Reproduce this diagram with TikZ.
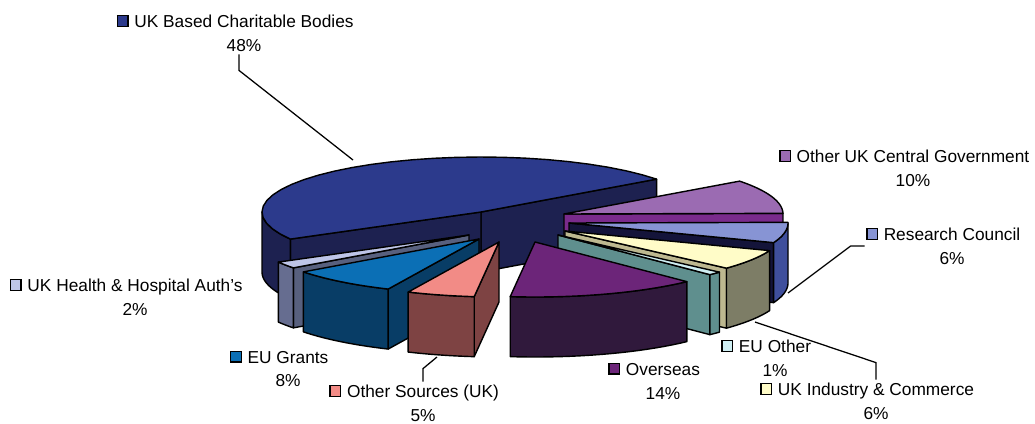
\documentclass[tikz,border=0pt]{standalone}
\usepackage{fontspec}
\setmainfont{Liberation Sans}
\usetikzlibrary{positioning}
\usepackage{xcolor}
% slice colours (top / rim / radial wall)
\definecolor{cbTop}{HTML}{2C3A8C}
\definecolor{cbSide}{HTML}{1D2150}
\definecolor{ocgTop}{HTML}{9B6BB2}
\definecolor{ocgWall}{HTML}{7A2B8C}
\definecolor{rcTop}{HTML}{8794D4}
\definecolor{rcRim}{HTML}{3F4F9C}
\definecolor{rcWall}{HTML}{14143A}
\definecolor{uicTop}{HTML}{FFFCC8}
\definecolor{uicRim}{HTML}{7D7D66}
\definecolor{uicWall}{HTML}{BDB890}
\definecolor{euoTop}{HTML}{CFEFF3}
\definecolor{euoRim}{HTML}{5F8F8E}
\definecolor{ovsTop}{HTML}{6C2579}
\definecolor{ovsRim}{HTML}{30193C}
\definecolor{osTop}{HTML}{F28B86}
\definecolor{osRim}{HTML}{7E4343}
\definecolor{eugTop}{HTML}{0B6FB5}
\definecolor{eugRim}{HTML}{083D66}
\definecolor{hhaTop}{HTML}{BEC5E8}
\definecolor{hhaRim}{HTML}{666D90}
\definecolor{hhaWall}{HTML}{58607E}
% pie: centre (481,212), radii 219/55, depth 60; #1 #2 = explode offset
\newcommand{\Top}[5]{\filldraw[face,fill=#5] ({481+(#1)},{212+(#2)})
	-- plot[domain=#3:#4,samples=30] ({481+(#1)+219*cos(\x)},{212+(#2)-55*sin(\x)}) -- cycle;}
\newcommand{\Wall}[4]{\filldraw[face,fill=#4] ({481+(#1)},{212+(#2)})
	-- ({481+(#1)+219*cos(#3)},{212+(#2)-55*sin(#3)})
	-- ({481+(#1)+219*cos(#3)},{272+(#2)-55*sin(#3)})
	-- ({481+(#1)},{272+(#2)}) -- cycle;}
\newcommand{\Rim}[5]{\filldraw[face,fill=#5]
	plot[domain=#3:#4,samples=20] ({481+(#1)+219*cos(\x)},{212+(#2)-55*sin(\x)})
	-- plot[domain=#4:#3,samples=20] ({481+(#1)+219*cos(\x)},{272+(#2)-55*sin(\x)}) -- cycle;}
\newcommand{\keybox}[1]{\llap{\raisebox{1.2pt}{\setlength{\fboxsep}{0pt}\setlength{\fboxrule}{1pt}%
	\fcolorbox{black}{#1}{\rule{0pt}{6.5pt}\rule{6.5pt}{0pt}}}\hspace{4pt}}}

\begin{document}
\begin{tikzpicture}[x=0.025cm,y=-0.025cm,
% Slice style
face/.style={draw=black,line width=1pt,line join=round},
% Label style
lbl/.style={align=center,font=\fontsize{12.3}{17}\selectfont,inner sep=2pt},
leader/.style={draw=black,line width=0.9pt},
]
\useasboundingbox (0,0) rectangle (1035,423);
%% Back slice
\Wall{0}{0}{36.7}{cbSide}
\Wall{0}{0}{209.5}{cbSide}
\Rim{0}{0}{180}{209.5}{cbSide}
\Top{0}{0}{36.7}{209.5}{cbTop}
%% Right group
\Wall{83}{2}{0.7}{ocgWall}
\Top{83}{2}{0.7}{36.7}{ocgTop}
\Wall{88}{11}{339.1}{rcWall}
\Rim{88}{11}{339.1}{360}{rcRim}
\Top{88}{11}{339.1}{360.7}{rcTop}
\Wall{84}{19}{317.5}{uicWall}
\Rim{84}{19}{317.5}{339.1}{uicRim}
\Top{84}{19}{317.5}{339.1}{uicTop}
\Wall{77}{23}{313.9}{euoRim}
\Rim{77}{23}{313.9}{317.5}{euoRim}
\Top{77}{23}{313.9}{317.5}{euoTop}
%% Left group
\Wall{-12}{23}{216.7}{hhaWall}
\Rim{-12}{23}{209.5}{216.7}{hhaRim}
\Top{-12}{23}{209.5}{216.7}{hhaTop}
\Wall{-2}{27}{245.5}{eugRim}
\Rim{-2}{27}{216.7}{245.5}{eugRim}
\Top{-2}{27}{216.7}{245.5}{eugTop}
\Wall{18}{30}{263.5}{osRim}
\Rim{18}{30}{245.5}{263.5}{osRim}
\Top{18}{30}{245.5}{263.5}{osTop}
%% Front slice
\Rim{54}{30}{263.5}{313.9}{ovsRim}
\Top{54}{30}{263.5}{313.9}{ovsTop}

%% Labels
\node[lbl] (cb)  at (244,33)  {\keybox{cbTop}UK Based Charitable Bodies\\48\%};
\node[lbl] (ocg) at (913,168) {\keybox{ocgTop}Other UK Central Government\\10\%};
\node[lbl] (rc)  at (952,246) {\keybox{rcTop}Research Council\\6\%};
\node[lbl] (euo) at (775,358) {\keybox{euoTop}EU Other\\1\%};
\node[lbl] (uic) at (876,401) {\keybox{uicTop}UK Industry \& Commerce\\6\%};
\node[lbl] (ovs) at (663,381) {\keybox{ovsTop}Overseas\\14\%};
\node[lbl] (os)  at (423,403) {\keybox{osTop}Other Sources (UK)\\5\%};
\node[lbl] (eug) at (288,369) {\keybox{eugTop}EU Grants\\8\%};
\node[lbl] (hha) at (135,297) {\keybox{hhaTop}UK Health \& Hospital Auth's\\2\%};

%% Leader lines
\coordinate (cb-pt)  at (353,160);
\coordinate (rc-pt)  at (788,293);
\coordinate (uic-pt) at (755,322);
\coordinate (os-pt)  at (437,357);
\draw[leader] (cb.south) ++(-5,0) -- ++(0,16) -- (cb-pt);
\draw[leader] (rc.west) ++(-16,0) -- ++(-14,0) -- (rc-pt);
\draw[leader] (uic.north) -- ++(0,-17) -- (uic-pt);
\draw[leader] (os.north) -- ++(0,-13) -- (os-pt);
\end{tikzpicture}
\end{document}
